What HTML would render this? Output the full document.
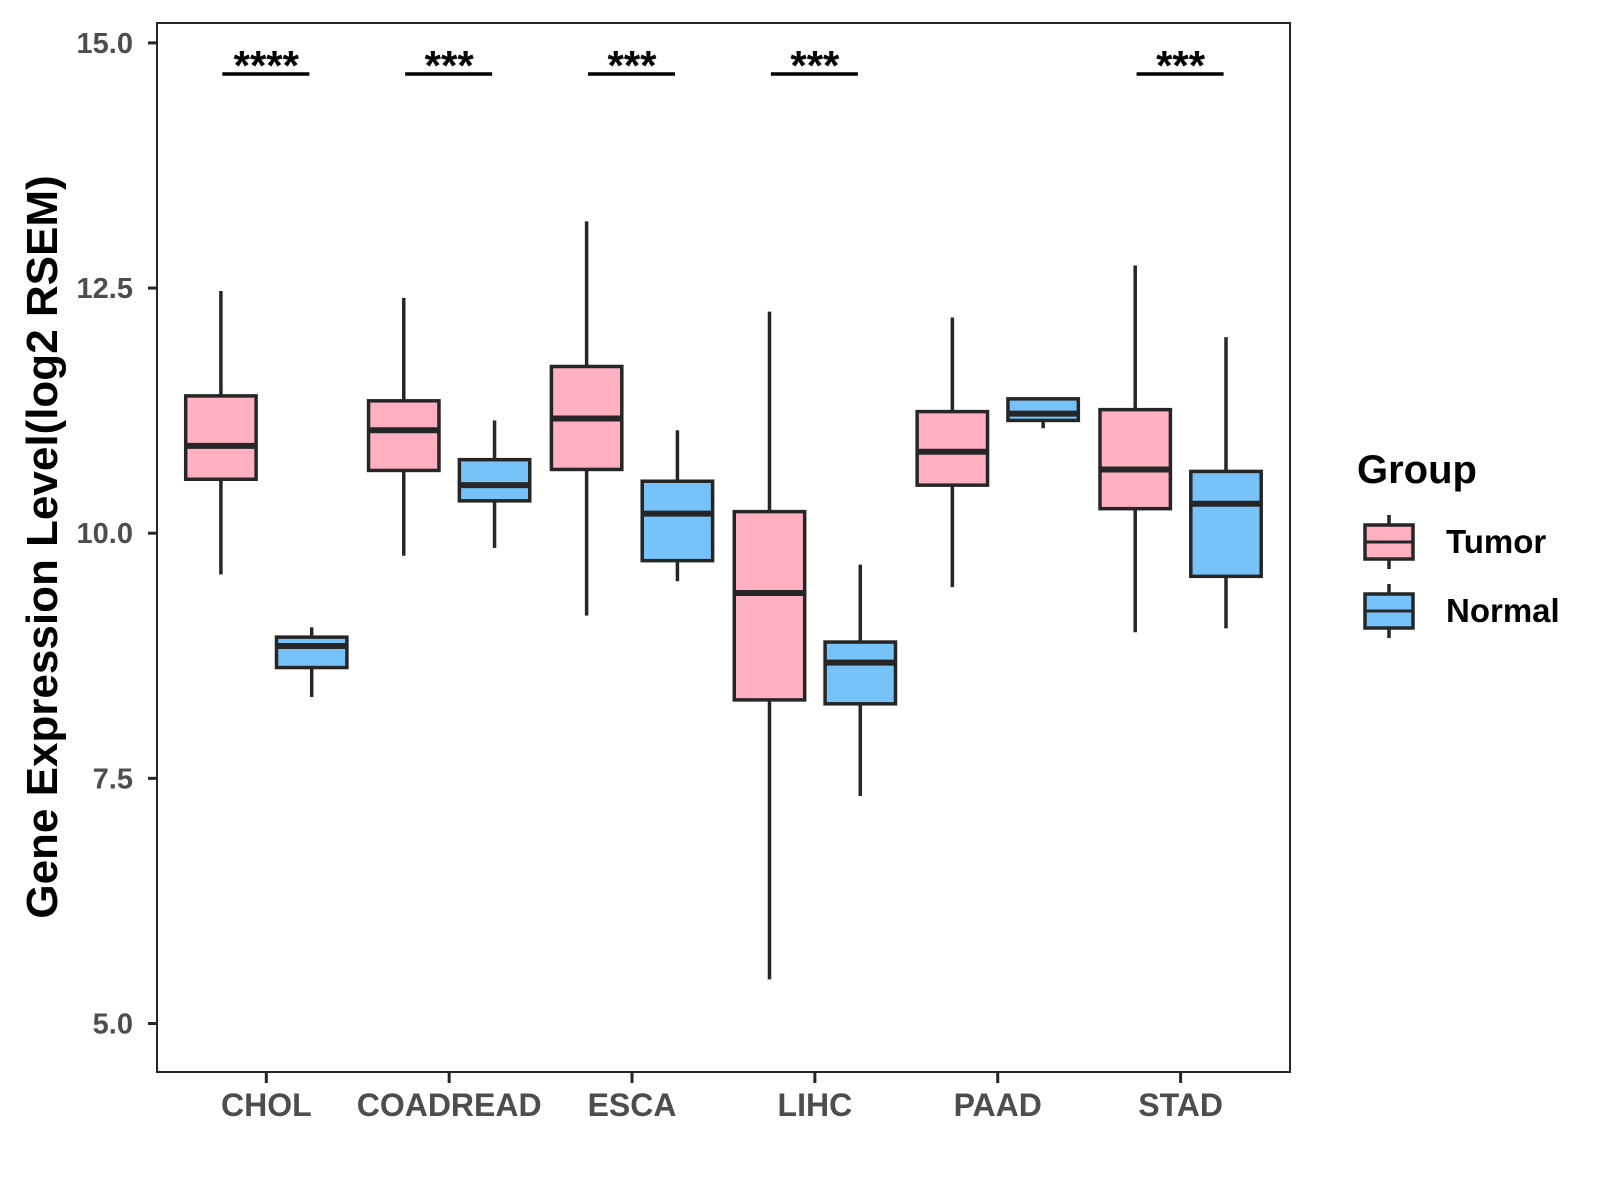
<!DOCTYPE html>
<html><head><meta charset="utf-8"><style>
html,body{margin:0;padding:0;background:#fff}
svg{display:block}
text{font-family:"Liberation Sans",Arial,sans-serif;font-weight:bold}
</style></head><body>
<svg id="chart" width="1600" height="1200" xmlns="http://www.w3.org/2000/svg"></svg>
<script>
const categories = ["CHOL","COADREAD","ESCA","LIHC","PAAD","STAD"];
const tumorStats = [
  [9.58,10.55,10.89,11.40,12.47],
  [9.77,10.64,11.05,11.35,12.40],
  [9.16,10.65,11.17,11.70,13.18],
  [5.45,8.30,9.39,10.22,12.26],
  [9.45,10.49,10.83,11.24,12.20],
  [8.99,10.25,10.65,11.26,12.73]
];
const normalStats = [
  [8.33,8.63,8.85,8.94,9.04],
  [9.85,10.33,10.49,10.75,11.15],
  [9.51,9.72,10.20,10.53,11.05],
  [7.32,8.26,8.68,8.89,9.68],
  [11.07,11.15,11.22,11.37,11.37],
  [9.03,9.56,10.30,10.63,12.00]
];
const significance = ["****","***","***","***","","***"];
const yTicks = [5.0,7.5,10.0,12.5,15.0];
const yTickLabels = ["5.0","7.5","10.0","12.5","15.0"];

const svg = document.getElementById('chart');
const NS = "http://www.w3.org/2000/svg";
const L=157,R=1290,T=23,B=1072;
function y(v){ return 1023.5 - (v-5)*98.06; }
function x(i){ return 266.3 + i*182.86; }
function mk(tag, attrs, parent){
  const e=document.createElementNS(NS,tag);
  for(const k in attrs) e.setAttribute(k,attrs[k]);
  (parent||svg).appendChild(e); return e;
}
const panel = mk('rect',{x:L,y:T,width:R-L,height:B-T,fill:'none',stroke:'#262626','stroke-width':2});


yTicks.forEach((v,i)=>{
  const t=mk('line',{x1:L-9,x2:L,y1:y(v),y2:y(v),stroke:'#262626','stroke-width':3});
  
  
  const lb=mk('text',{x:L-24,y:y(v)+10,'text-anchor':'end','font-size':29,fill:'#4d4d4d'});
  lb.textContent=yTickLabels[i];
  
  
});
categories.forEach((c,i)=>{
  const t=mk('line',{x1:x(i),x2:x(i),y1:B,y2:B+11,stroke:'#262626','stroke-width':3});
  
  
  const lb=mk('text',{x:x(i),y:B+44,'text-anchor':'middle','font-size':32,fill:'#4d4d4d'});
  lb.textContent=c;
  
  
});
const OFF=45.4, W=70.4;
function box(cx,s,fill,name){
  const g=mk('g',{});
  
  
  mk('line',{x1:cx,x2:cx,y1:y(s[0]),y2:y(s[1]),stroke:'#262626','stroke-width':3.5},g);
  mk('line',{x1:cx,x2:cx,y1:y(s[3]),y2:y(s[4]),stroke:'#262626','stroke-width':3.5},g);
  mk('rect',{x:cx-W/2,y:y(s[3]),width:W,height:y(s[1])-y(s[3]),fill:fill,stroke:'#262626','stroke-width':3.5},g);
  mk('line',{x1:cx-W/2,x2:cx+W/2,y1:y(s[2]),y2:y(s[2]),stroke:'#262626','stroke-width':6},g);
}
categories.forEach((c,i)=>{
  box(x(i)-OFF,tumorStats[i],'#FFB1C2','tumor-box-'+c.toLowerCase());
  box(x(i)+OFF,normalStats[i],'#77C2F8','normal-box-'+c.toLowerCase());
  if(significance[i]){
    const ln=mk('line',{x1:x(i)-44,x2:x(i)+43,y1:74,y2:74,stroke:'#000','stroke-width':3.5});
    
    
    const st=mk('text',{x:x(i),y:80,'text-anchor':'middle','font-size':42,fill:'#000'});
    st.textContent=significance[i];
    
    
  }
});
const yt=mk('text',{x:0,y:0,transform:'translate(57,547) rotate(-90)','text-anchor':'middle','font-size':44,fill:'#000'});
yt.textContent='Gene Expression Level(log2 RSEM)';


const lt=mk('text',{x:1357,y:483,'font-size':40,fill:'#000'});
lt.textContent='Group';


function key(yc,fill,label,name){
  const g=mk('g',{});
  
  
  const cx=1389;
  mk('line',{x1:cx,x2:cx,y1:yc-27,y2:yc+27,stroke:'#262626','stroke-width':3.5},g);
  mk('rect',{x:cx-24,y:yc-17,width:48,height:34,fill:fill,stroke:'#262626','stroke-width':3.5},g);
  mk('line',{x1:cx-24,x2:cx+24,y1:yc,y2:yc,stroke:'#262626','stroke-width':3},g);
  const t=mk('text',{x:1446,y:yc+11,'font-size':33,fill:'#000'},g);
  t.textContent=label;
}
key(542,'#FFB1C2','Tumor','legend-entry-tumor');
key(611,'#77C2F8','Normal','legend-entry-normal');
</script>
</body></html>
